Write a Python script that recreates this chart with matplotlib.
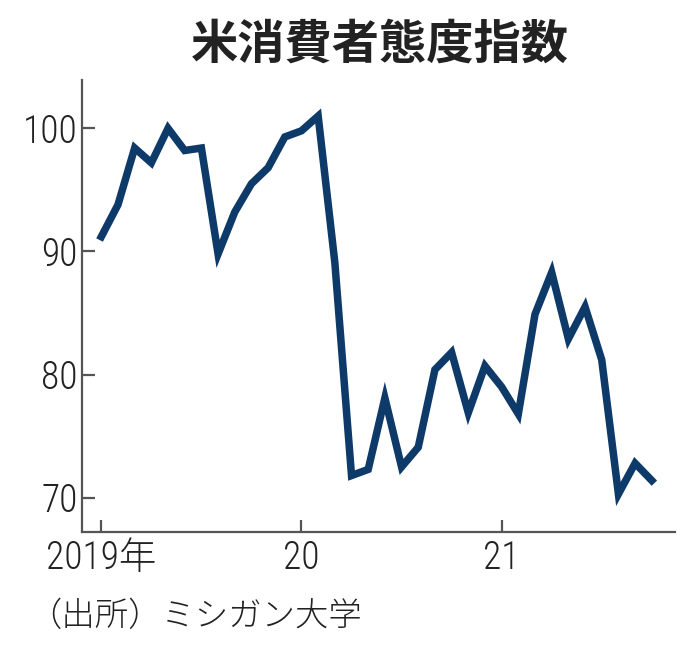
import matplotlib
matplotlib.use("Agg")
import matplotlib.pyplot as plt
import numpy as np

# monthly index, Jan 2019 - Oct 2021
values = [91.2, 93.8, 98.4, 97.2, 100.0, 98.2, 98.4, 89.8, 93.2, 95.5, 96.8, 99.3,
          99.8, 101.0, 89.1, 71.8, 72.3, 78.1, 72.5, 74.1, 80.4, 81.8, 76.9, 80.7,
          79.0, 76.8, 84.9, 88.3, 82.9, 85.5, 81.2, 70.3, 72.8, 71.4]
xtick_pos = [0, 12, 24]
xtick_labels = ["2019年", "20", "21"]
ytick_vals = [70, 80, 90, 100]

num_font = ["Roboto Condensed", "Liberation Sans Narrow", "Noto Sans CJK JP"]
plt.rcParams["font.family"] = ["Noto Sans CJK JP", "DejaVu Sans"]

fig = plt.figure(figsize=(6.96, 6.53), dpi=100)
ax = fig.add_axes([0.118, 0.185, 0.852, 0.692])

months = np.arange(len(values))
ax.plot(months, values, color="#0d3a69", linewidth=5.4, solid_joinstyle="miter")

ax.set_xlim(-1.15, 34.4)
ax.set_ylim(67.2, 103.9)
ax.spines["top"].set_visible(False)
ax.spines["right"].set_visible(False)
for s in ["left", "bottom"]:
    ax.spines[s].set_color("#555555")
    ax.spines[s].set_linewidth(1.6)

ax.set_yticks(ytick_vals)
ax.set_yticklabels([str(v) for v in ytick_vals], family=num_font, fontsize=27,
                   fontweight="light", color="#222222")
ax.set_xticks(xtick_pos)
ax.set_xticklabels(xtick_labels, family=num_font, fontsize=27,
                   fontweight="light", color="#222222")
ax.tick_params(axis="both", direction="in", length=9, width=1.6, color="#555555")
ax.tick_params(axis="y", pad=3)
ax.tick_params(axis="x", pad=5)

fig.text(0.546, 0.931, "米消費者態度指数", ha="center", va="center",
         fontsize=34, fontweight="bold", color="#222222")
fig.text(0.04, 0.055, "（出所）ミシガン大学", ha="left", va="center",
         fontsize=24, fontweight="light", color="#222222")

fig.savefig("out.png", dpi=100)
